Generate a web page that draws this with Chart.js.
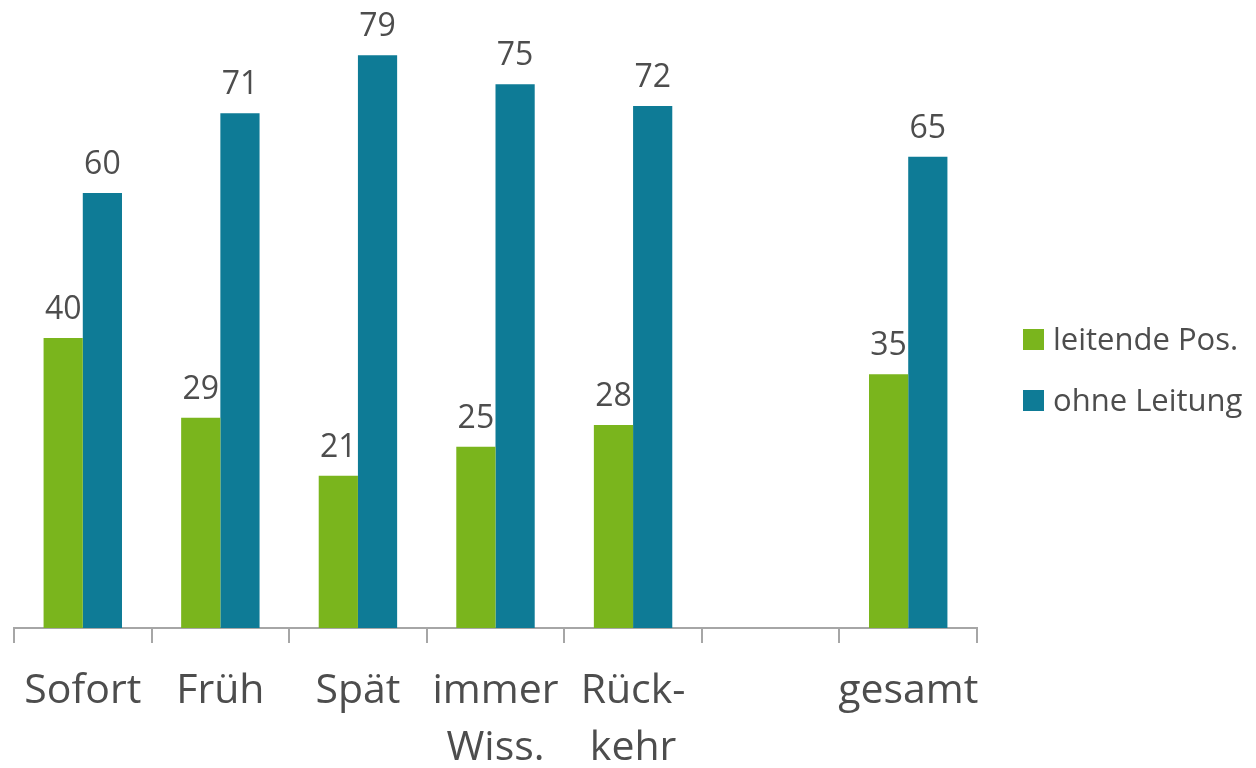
<!DOCTYPE html>
<html>
<head>
<meta charset="utf-8">
<script src="https://cdn.jsdelivr.net/npm/chart.js@4"></script>
<style>
  body { margin: 0; background: #fff; }
  #wrap { width: 1256px; height: 768px; }
</style>
</head>
<body>
<div id="wrap"><canvas id="myChart" width="1256" height="768"></canvas></div>
<script>
// daten
const categories = ['Sofort', 'Früh', 'Spät', ['immer', 'Wiss.'], ['Rück-', 'kehr'], '', 'gesamt'];
const seriesNames = ['leitende Pos.', 'ohne Leitung'];
const leitend = [40, 29, 21, 25, 28, null, 35];
const ohne = [60, 71, 79, 75, 72, null, 65];
const colors = ['#7AB51D', '#0E7B96'];

const textColor = '#4D4D4D';
const fontName = '"Open Sans", Lato, sans-serif';

// zahlen ueber den balken
const valueLabels = {
        id: 'valueLabels',
        afterDatasetsDraw(chart) {
                const ctx = chart.ctx;
                ctx.save();
                ctx.fillStyle = textColor;
                ctx.font = '32px ' + fontName;
                ctx.textAlign = 'center';
                ctx.textBaseline = 'alphabetic';
                chart.data.datasets.forEach((ds, i) => {
                        chart.getDatasetMeta(i).data.forEach((bar, j) => {
                                if (ds.data[j] == null) return;
                                ctx.fillText(ds.data[j], bar.x, bar.y - 19);
                        });
                });
                ctx.restore();
        }
};

// legende rechts
const sideLegend = {
        id: 'sideLegend',
        afterDraw(chart) {
                const ctx = chart.ctx;
                ctx.save();
                ctx.font = '31px ' + fontName;
                ctx.textBaseline = 'alphabetic';
                const rows = [350, 411];
                chart.data.datasets.forEach((ds, i) => {
                        ctx.fillStyle = ds.backgroundColor;
                        ctx.fillRect(1023, rows[i] - 21, 21, 21);
                        ctx.fillStyle = textColor;
                        ctx.fillText(ds.label, 1053, rows[i]);
                });
                ctx.restore();
        }
};

const data = {
        labels: categories,
        datasets: [
                { label: seriesNames[0], data: leitend, backgroundColor: colors[0] },
                { label: seriesNames[1], data: ohne, backgroundColor: colors[1] }
        ]
};

const config = {
        type: 'bar',
        data: data,
        options: {
                responsive: false,
                animation: false,
                categoryPercentage: 0.57,
                barPercentage: 1.0,
                layout: { padding: { left: 14, right: 279, top: 48, bottom: 0 } },
                plugins: {
                        legend: { display: false },
                        tooltip: { enabled: false }
                },
                scales: {
                        x: {
                                grid: {
                                        offset: true,
                                        drawOnChartArea: false,
                                        tickLength: 15,
                                        color: '#A6A6A6',
                                        lineWidth: 2
                                },
                                border: { color: '#A6A6A6', width: 2 },
                                ticks: {
                                        color: textColor,
                                        font: { family: fontName, size: 41, lineHeight: 1.38 },
                                        padding: 20,
                                        maxRotation: 0,
                                        autoSkip: false
                                },
                                afterFit(scale) { scale.height = 140; }
                        },
                        y: {
                                display: false,
                                min: 0,
                                max: 80
                        }
                }
        },
        plugins: [valueLabels, sideLegend]
};

const myChart = new Chart(document.getElementById('myChart'), config);
</script>
</body>
</html>
